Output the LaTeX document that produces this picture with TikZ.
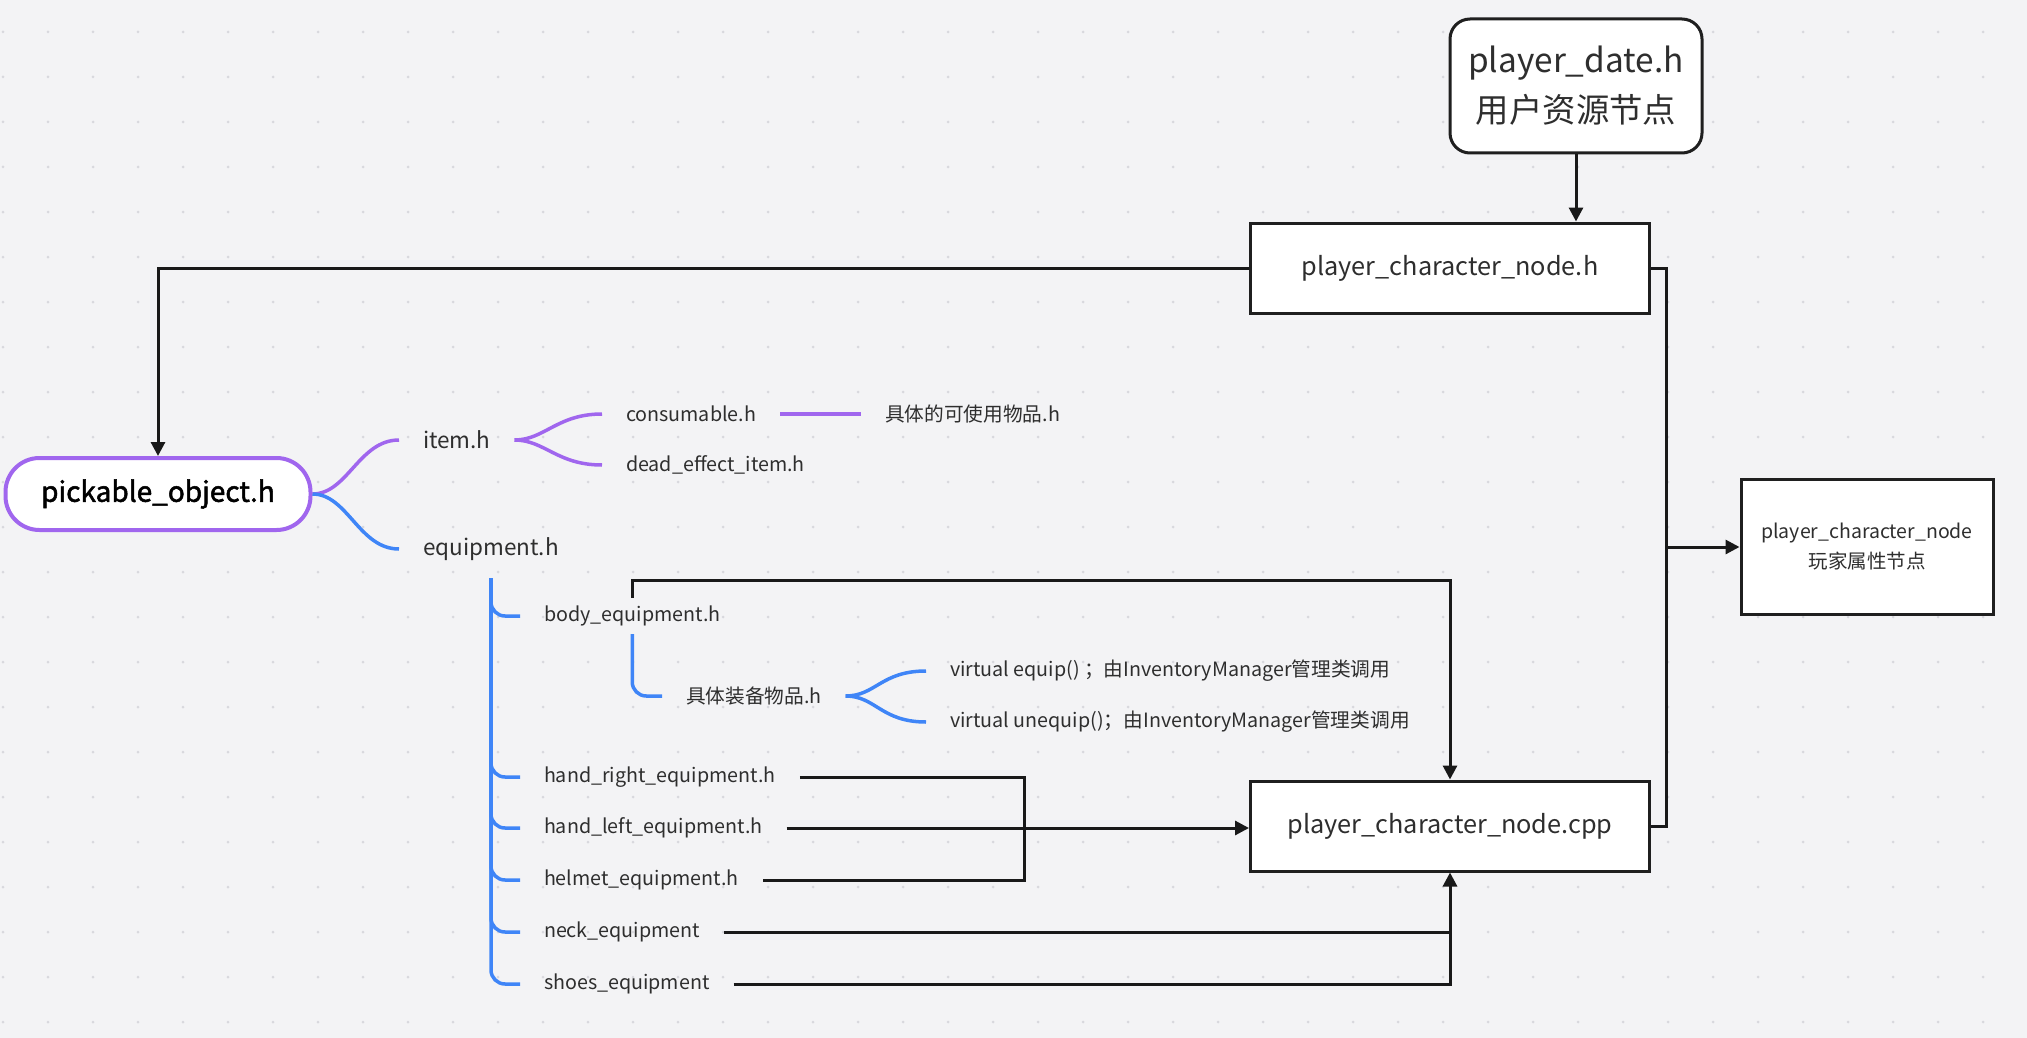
\documentclass[tikz,border=0pt]{standalone}
\usepackage{fontspec}
\setmainfont{Noto Sans CJK SC}
\newfontface\medfont[FakeBold=1.8]{Noto Sans CJK SC}
\usetikzlibrary{arrows.meta,positioning}
\definecolor{bgcol}{HTML}{F3F3F5}
\definecolor{dotcol}{HTML}{D8D8DD}
\definecolor{mmpurple}{HTML}{A066EE}
\definecolor{mmblue}{HTML}{3F85F7}
\definecolor{txtcol}{HTML}{2E2E2E}
\tikzset{
  conn/.style={draw=black!90, line width=3pt},
  arr/.style={conn, -{Triangle[length=14pt,width=14pt]}},
  filebox/.style={draw=black!88, line width=3pt, fill=white, text=txtcol, minimum width=399pt, minimum height=90pt, font=\fontsize{25.3}{30}\selectfont},
  leaf/.style={text=txtcol, inner xsep=0pt, inner ysep=2pt, outer xsep=24pt, outer ysep=6pt, anchor=west, font=\fontsize{19.7}{24}\selectfont},
  branch/.style={leaf, font=\fontsize{22.5}{27}\selectfont},
  pline/.style={draw=mmpurple, line width=3.5pt},
  bline/.style={draw=mmblue, line width=3.5pt},
}
\begin{document}
\begin{tikzpicture}[x=1pt,y=-1pt]
    % \helpgrid{45}{45}
    \fill[bgcol] (0,0) rectangle (2027,1038);
    \useasboundingbox (0,0) rectangle (2027,1038);
    \foreach \i in {0,...,44}
        \foreach \j in {0,...,22}
            \fill[dotcol] (3+45*\i,32+45*\j) circle (1.5pt);

    \node[filebox, rounded corners=20pt, minimum width=252pt, minimum height=134pt, align=center, font=\fontsize{33.4}{50}\selectfont] (date) at (1576,86) {player\_date.h\\用户资源节点};
    \node[filebox] (pchh) at (1450,268) {player\_character\_node.h};
    \node[filebox] (cpp) at (1450,826) {player\_character\_node.cpp};
    \node[filebox, minimum width=252pt, minimum height=135pt, align=center, font=\fontsize{19.5}{30}\selectfont] (attr) at (1867,547) {player\_character\_node\\玩家属性节点};
    \node[draw=mmpurple, line width=4pt, fill=white, text=black, rounded corners=34pt, minimum width=305pt, minimum height=72pt, font=\fontsize{28}{32}\medfont] (pick) at (158,494) {pickable\_object.h};

    \node[branch] (item) at (399,440) {item.h};
    \node[branch] (equip) at (399,549) {equipment.h};
    \node[leaf] (cons) at (602,414) {consumable.h};
    \node[leaf] (dead) at (602,465) {dead\_effect\_item.h};
    \node[leaf] (usable) at (861,414) {具体的可使用物品.h};
    \node[leaf] (body) at (520,616) {body\_equipment.h};
    \node[leaf] (spec) at (662,696) {具体装备物品.h};
    \node[leaf] (veq) at (926,671) {virtual equip() ；由InventoryManager管理类调用};
    \node[leaf] (vuneq) at (926,722) {virtual unequip()；由InventoryManager管理类调用};
    \foreach \n/\t/\y in {hr/hand\_right\_equipment.h/777, hl/hand\_left\_equipment.h/828, helm/helmet\_equipment.h/880, neck/neck\_equipment/932, shoes/shoes\_equipment/984}
        \node[leaf] (\n) at (520,\y) {\t};

    \draw[pline] (pick.east) .. controls +(35,0) and +(-40,0) .. (item.west);
    \draw[bline] (pick.east) .. controls +(35,0) and +(-40,0) .. (equip.west);
    \draw[pline] (item.east) .. controls +(30,0) and +(-45,0) .. (cons.west);
    \draw[pline] (item.east) .. controls +(30,0) and +(-45,0) .. (dead.west);
    \draw[pline] (cons.east) -- (usable.west);
    \coordinate (eqroot) at (491,578);
    \foreach \n in {body,hr,hl,helm,neck,shoes}
        \draw[bline, rounded corners=14pt] (eqroot) |- (\n.west);
    \draw[bline, rounded corners=14pt] (body.south) |- (spec.west);
    \draw[bline] (spec.east) .. controls +(30,0) and +(-45,0) .. (veq.west);
    \draw[bline] (spec.east) .. controls +(30,0) and +(-45,0) .. (vuneq.west);

    \draw[arr] (date.south) -- (date.south |- pchh.north);
    \draw[arr] (pchh.west) -| (pick.north);
    \draw[arr] (body.north) -- ++(0,-17) -| (cpp.north);
    \coordinate (jx) at (1024,828);
    \draw[conn] (hr.east) -| (jx) |- (helm.east);
    \draw[arr] (hl.east) -- (hl.east -| cpp.west);
    \draw[conn] (shoes.east) -| (neck.east -| cpp.south);
    \draw[arr] (neck.east) -| (cpp.south);
    \coordinate (rx) at (1666,547);
    \draw[conn] (pchh.east) -| (rx) |- (cpp.east);
    \draw[arr] (rx) -- (attr.west);
\end{tikzpicture}
\end{document}
